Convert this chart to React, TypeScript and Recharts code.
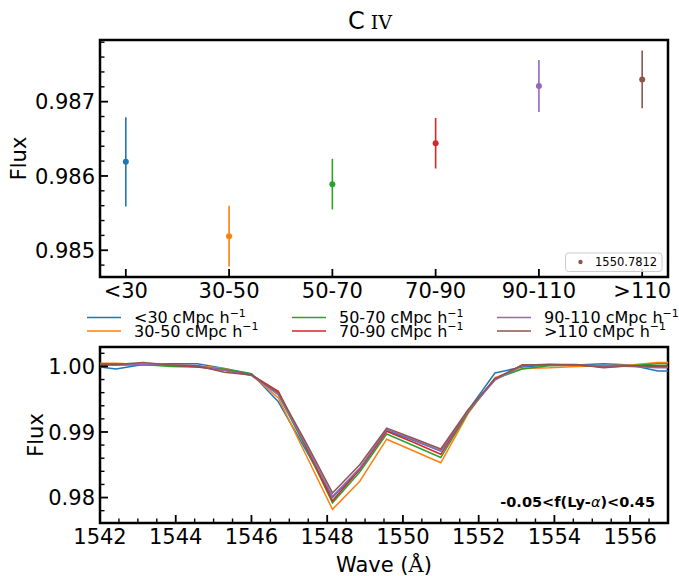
import React from 'react';
import { ScatterChart, Scatter, ErrorBar, LineChart, Line, XAxis, YAxis, ReferenceArea } from 'recharts';

const SANS = 'DejaVu Sans, sans-serif';
const SERIF = 'DejaVu Serif, serif';

// ---- top panel data ----
const bins = ['<30', '30-50', '50-70', '70-90', '90-110', '>110'];
const binColors = ['#1f77b4', '#ff7f0e', '#2ca02c', '#d62728', '#9467bd', '#8c564b'];
const binIndex = [0, 1, 2, 3, 4, 5];
const fluxMean = [0.98619, 0.98519, 0.98589, 0.98644, 0.98721, 0.9873];
const fluxErr = [0.0006, 0.00041, 0.00034, 0.00034, 0.00035, 0.00039];
const topXDomain = [-0.25, 5.25];
const topYDomain = [0.98464, 0.98783];
const topYMajor = [0.985, 0.986, 0.987];
const topYMinor = [0.9848, 0.9852, 0.9854, 0.9856, 0.9858, 0.9862, 0.9864, 0.9866, 0.9868, 0.9872, 0.9874, 0.9876, 0.9878];
const topLegendLabel = '1550.7812';
const titleMain = 'C';
const titleIon = 'IV';

// ---- bottom panel data ----
const waveGrid = [1541.71, 1542.42, 1543.14, 1543.85, 1544.57, 1545.28, 1546.0, 1546.71, 1547.43, 1548.14, 1548.86, 1549.57, 1550.29, 1551.0, 1551.72, 1552.43, 1553.15, 1553.86, 1554.58, 1555.3, 1556.01, 1556.73, 1557.45];
const fluxLt30 = [1.0001, 0.9996, 1.0003, 1.0004, 1.0004, 0.9997, 0.9989, 0.9946, 0.9873, 0.98, 0.9843, 0.9902, 0.9887, 0.9871, 0.9933, 0.999, 0.9999, 1.0002, 1.0002, 1.0004, 1.0002, 0.9993, 0.9993];
const flux30_50 = [1.0005, 1.0005, 1.0003, 1.0002, 1.0001, 0.9997, 0.9987, 0.9952, 0.9866, 0.9782, 0.9825, 0.9889, 0.9871, 0.9853, 0.9928, 0.9983, 0.9997, 0.9998, 1.0, 1.0001, 1.0002, 1.0006, 1.0006];
const flux50_70 = [1.0004, 1.0004, 1.0003, 1.0, 0.9999, 0.9996, 0.9988, 0.9957, 0.9877, 0.9792, 0.9839, 0.9897, 0.9879, 0.9861, 0.993, 0.9981, 0.9996, 1.0001, 1.0002, 1.0001, 1.0001, 1.0004, 1.0004];
const flux70_90 = [1.0002, 1.0002, 1.0003, 1.0002, 0.9999, 0.9994, 0.9987, 0.9962, 0.9879, 0.9795, 0.9843, 0.9901, 0.9884, 0.9866, 0.9932, 0.9981, 1.0002, 1.0003, 1.0002, 0.9999, 1.0001, 1.0001, 1.0001];
const flux90_110 = [1.0002, 1.0002, 1.0003, 1.0002, 1.0001, 0.9994, 0.9986, 0.9957, 0.9881, 0.9802, 0.9845, 0.9904, 0.9888, 0.9871, 0.9932, 0.9979, 1.0001, 1.0003, 1.0002, 1.0001, 1.0, 0.9998, 0.9998];
const fluxGt110 = [1.0003, 1.0003, 1.0006, 1.0002, 1.0001, 0.9991, 0.9987, 0.996, 0.9885, 0.9807, 0.985, 0.9906, 0.989, 0.9874, 0.9934, 0.9981, 1.0002, 1.0003, 1.0003, 0.9998, 1.0001, 1.0, 1.0];
const seriesFlux = [fluxLt30, flux30_50, flux50_70, flux70_90, flux90_110, fluxGt110];
const seriesLabels = ['<30', '30-50', '50-70', '70-90', '90-110', '>110'];
const botXDomain = [1542, 1557];
const botYDomain = [0.97612, 1.00296];
const botXMajor = [1542, 1544, 1546, 1548, 1550, 1552, 1554, 1556];
const botXMinor = [1542.5, 1543, 1543.5, 1544.5, 1545, 1545.5, 1546.5, 1547, 1547.5, 1548.5, 1549, 1549.5, 1550.5, 1551, 1551.5, 1552.5, 1553, 1553.5, 1554.5, 1555, 1555.5, 1556.5];
const botYMajor = [0.98, 0.99, 1.0];
const botYMinor = [0.978, 0.982, 0.984, 0.986, 0.988, 0.992, 0.994, 0.996, 0.998, 1.002];
const annotation = '-0.05<f(Ly-';
const annotationEnd = ')<0.45';

const spectrumRows = waveGrid.map((w, i) => {
  const row: any = { wave: w };
  seriesFlux.forEach((s, k) => { row['s' + k] = s[i]; });
  return row;
});

const isIn = (arr: number[], v: number) => arr.some((m) => Math.abs(m - v) < 1e-9);

const makeYTick = (majors: number[], fmt: (v: number) => string) => (props: any) => {
  const { x, y, payload } = props;
  const v = payload.value;
  const major = isIn(majors, v);
  return (
    <g>
      <line x1={x} x2={x + (major ? 8 : 4.5)} y1={y} y2={y} stroke="#000" strokeWidth={major ? 1.8 : 1.4} />
      {major && (
        <text x={x - 5} y={y} dy="0.36em" textAnchor="end" fontSize={21} fontFamily={SANS} fill="#000">
          {fmt(v)}
        </text>
      )}
    </g>
  );
};

const makeXTick = (majors: number[], fmt: (v: number) => string) => (props: any) => {
  const { x, y, payload } = props;
  const v = payload.value;
  const major = isIn(majors, v);
  return (
    <g>
      <line x1={x} x2={x} y1={y} y2={y - (major ? 8 : 4.5)} stroke="#000" strokeWidth={major ? 1.8 : 1.4} />
      {major && (
        <text x={x} y={y + 20.5} textAnchor="middle" fontSize={21} fontFamily={SANS} fill="#000">
          {fmt(v)}
        </text>
      )}
    </g>
  );
};

const sortNums = (a: number[]) => [...a].sort((p, q) => p - q);

const superscript = (
  <tspan dy={-6.5} fontSize={11}>−1</tspan>
);

export default function App() {
  const legendCols = [87, 292, 497];
  const legendRows = [317.5, 331];
  return (
    <div style={{ position: 'absolute', left: 0, top: 0, width: 679, height: 576, background: '#fff' }}>
      <div style={{ position: 'absolute', left: 0, top: 0 }}>
        <ScatterChart width={679} height={320} margin={{ top: 40, right: 11, bottom: 20, left: 0 }} style={{ overflow: 'visible' }}>
          <XAxis
            type="number"
            dataKey="x"
            domain={topXDomain}
            allowDataOverflow
            ticks={binIndex}
            interval={0}
            axisLine={false}
            tickLine={false}
            tickSize={0}
            tickMargin={0}
            height={23}
            tick={makeXTick(binIndex, (v) => bins[Math.round(v)])}
          />
          <YAxis
            type="number"
            dataKey="y"
            domain={topYDomain}
            allowDataOverflow
            ticks={sortNums([...topYMajor, ...topYMinor])}
            interval={0}
            axisLine={false}
            tickLine={false}
            tickSize={0}
            tickMargin={0}
            width={100}
            tick={makeYTick(topYMajor, (v) => v.toFixed(3))}
          />
          <ReferenceArea
            x1={topXDomain[0]}
            x2={topXDomain[1]}
            y1={topYDomain[0]}
            y2={topYDomain[1]}
            fill="none"
            stroke="#000"
            strokeWidth={2.5}
            ifOverflow="visible"
          />
          {binIndex.map((i) => (
            <Scatter
              key={bins[i]}
              name={bins[i]}
              data={[{ x: binIndex[i], y: fluxMean[i], err: fluxErr[i] }]}
              fill={binColors[i]}
              isAnimationActive={false}
              shape={(p: any) => <circle cx={p.cx} cy={p.cy} r={3} fill={binColors[i]} />}
            >
              <ErrorBar dataKey="err" direction="y" width={0} stroke={binColors[i]} strokeWidth={1.6} isAnimationActive={false} />
            </Scatter>
          ))}
        </ScatterChart>
      </div>
      <div style={{ position: 'absolute', left: 0, top: 300 }}>
        <LineChart width={679} height={276} data={spectrumRows} margin={{ top: 47, right: 11, bottom: 0, left: 0 }}>
          <XAxis
            type="number"
            dataKey="wave"
            domain={botXDomain}
            allowDataOverflow
            ticks={sortNums([...botXMajor, ...botXMinor])}
            interval={0}
            axisLine={false}
            tickLine={false}
            tickSize={0}
            tickMargin={0}
            height={53}
            tick={makeXTick(botXMajor, (v) => String(v))}
          />
          <YAxis
            type="number"
            domain={botYDomain}
            allowDataOverflow
            ticks={sortNums([...botYMajor, ...botYMinor])}
            interval={0}
            axisLine={false}
            tickLine={false}
            tickSize={0}
            tickMargin={0}
            width={100}
            tick={makeYTick(botYMajor, (v) => v.toFixed(2))}
          />
          {seriesFlux.map((_, k) => (
            <Line
              key={k}
              type="linear"
              dataKey={'s' + k}
              stroke={binColors[k]}
              strokeWidth={1.5}
              dot={false}
              isAnimationActive={false}
            />
          ))}
          <ReferenceArea
            x1={botXDomain[0]}
            x2={botXDomain[1]}
            y1={botYDomain[0]}
            y2={botYDomain[1]}
            fill="none"
            stroke="#000"
            strokeWidth={2.5}
            ifOverflow="visible"
          />
        </LineChart>
      </div>
      <svg width={679} height={576} style={{ position: 'absolute', left: 0, top: 0, pointerEvents: 'none' }}>
        <text x={370} y={29} textAnchor="middle" fill="#000">
          <tspan fontFamily={SANS} fontSize={24}>{titleMain}</tspan>
          <tspan fontFamily={SERIF} fontSize={19} dx={6}>{titleIon}</tspan>
        </text>
        <text x={19} y={158.5} transform="rotate(-90 19 158.5)" textAnchor="middle" dominantBaseline="central" fontFamily={SANS} fontSize={21} fill="#000">Flux</text>
        <text x={36} y={435} transform="rotate(-90 36 435)" textAnchor="middle" dominantBaseline="central" fontFamily={SANS} fontSize={21} fill="#000">Flux</text>
        <text x={384} y={572} textAnchor="middle" fontFamily={SANS} fontSize={21} fill="#000">
          Wave (<tspan fontFamily={SERIF}>Å</tspan>)
        </text>
        {/* top legend box */}
        <rect x={565.5} y={253} width={96.5} height={18.5} rx={3} fill="#fff" fillOpacity={0.8} stroke="#cccccc" strokeWidth={1} />
        <circle cx={580.5} cy={262} r={2.2} fill={binColors[5]} />
        <text x={595} y={266.2} fontFamily={SANS} fontSize={11.5} fill="#000">{topLegendLabel}</text>
        {/* middle legend */}
        {seriesLabels.map((lab, k) => {
          const col = Math.floor(k / 2);
          const row = k % 2;
          const lx = legendCols[col];
          const ly = legendRows[row];
          return (
            <g key={lab}>
              <line x1={lx} x2={lx + 34} y1={ly} y2={ly} stroke={binColors[k]} strokeWidth={1.5} />
              <text x={lx + 47} y={ly + 5.5} fontFamily={SANS} fontSize={16} fill="#000">
                {lab + ' cMpc h'}
                {superscript}
              </text>
            </g>
          );
        })}
        {/* annotation */}
        <text x={655} y={507} textAnchor="end" fontFamily={SANS} fontSize={14.5} fontWeight="bold" fill="#000">
          {annotation}
          <tspan fontStyle="italic" fontWeight="normal">α</tspan>
          {annotationEnd}
        </text>
      </svg>
    </div>
  );
}
